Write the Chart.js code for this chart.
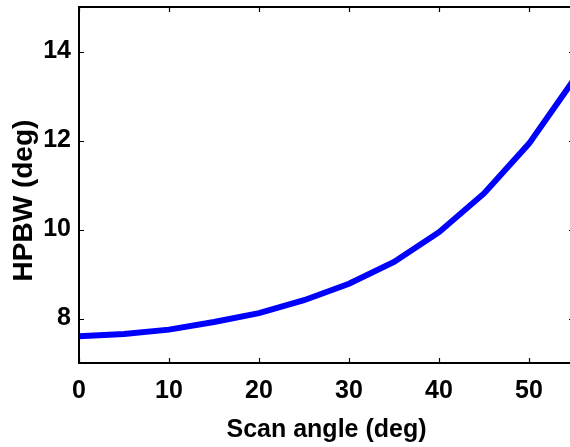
<!DOCTYPE html>
<html>
<head>
<meta charset="utf-8">
<script src="https://cdn.jsdelivr.net/npm/chart.js@4.4.1/dist/chart.umd.min.js"></script>
<style>
  html, body { margin: 0; padding: 0; background: #fff; overflow: hidden; }
  #wrap { position: relative; width: 576px; height: 447px; }
</style>
</head>
<body>
<div id="wrap"><canvas id="hpbwChart"></canvas></div>
<script>
// Half-power beamwidth vs. scan angle
const scanAngles = [0, 5, 10, 15, 20, 25, 30, 35, 40, 45, 50, 55];
const hpbwValues = [7.60, 7.65, 7.75, 7.92, 8.12, 8.41, 8.78, 9.27, 9.94, 10.81, 11.93, 13.37];
const xTicks = [0, 10, 20, 30, 40, 50];
const yTicks = [8, 10, 12, 14];

const fontFamily = "'Liberation Sans', Arial, sans-serif";
const axisFont = { family: fontFamily, size: 25, weight: 'bold' };
const yTitleFont = { family: fontFamily, size: 28, weight: 'bold' };

// box around the plot area with short inward tick marks
const framePlugin = {
  id: 'frame',
  afterDraw(chart) {
    const { ctx, chartArea: a, scales } = chart;
    ctx.save();
    ctx.strokeStyle = '#000';
    ctx.lineWidth = 2;
    ctx.strokeRect(a.left, a.top, a.right - a.left, a.bottom - a.top);
    ctx.lineWidth = 1.2;
    ctx.beginPath();
    xTicks.forEach(v => {
      const px = Math.round(scales.x.getPixelForValue(v)) + 0.5;
      ctx.moveTo(px, a.bottom); ctx.lineTo(px, a.bottom - 5);
      ctx.moveTo(px, a.top); ctx.lineTo(px, a.top + 5);
    });
    yTicks.forEach(v => {
      const py = Math.round(scales.y.getPixelForValue(v)) + 0.5;
      ctx.moveTo(a.left, py); ctx.lineTo(a.left + 5, py);
      ctx.moveTo(a.right, py); ctx.lineTo(a.right - 5, py);
    });
    ctx.stroke();
    ctx.restore();
  }
};

new Chart(document.getElementById('hpbwChart'), {
  type: 'line',
  data: {
    datasets: [{
      data: scanAngles.map((x, i) => ({ x, y: hpbwValues[i] })),
      borderColor: '#0000ff',
      borderWidth: 6,
      pointRadius: 0,
      tension: 0,
      fill: false
    }]
  },
  options: {
    responsive: true,
    maintainAspectRatio: false,
    animation: false,
    layout: { padding: { left: 0, right: 2, top: 7, bottom: 0 } },
    plugins: { legend: { display: false }, tooltip: { enabled: false } },
    scales: {
      x: {
        type: 'linear',
        min: 0,
        max: 55,
        afterBuildTicks: s => { s.ticks = xTicks.map(v => ({ value: v })); },
        afterFit: s => { s.height = 84; s.paddingLeft = 0; s.paddingRight = 0; },
        grid: { display: false, drawTicks: false },
        border: { display: false },
        ticks: { color: '#000', font: axisFont, padding: 13, maxRotation: 0 },
        title: { display: true, text: 'Scan angle (deg)', color: '#000', font: axisFont, padding: { top: 4, bottom: 2 } }
      },
      y: {
        min: 7,
        max: 15,
        afterBuildTicks: s => { s.ticks = yTicks.map(v => ({ value: v })); },
        afterFit: s => { s.width = 79; s.paddingTop = 0; s.paddingBottom = 0; },
        grid: { display: false, drawTicks: false },
        border: { display: false },
        ticks: { color: '#000', font: axisFont, padding: 8 },
        title: { display: true, text: 'HPBW (deg)    ', color: '#000', font: yTitleFont, padding: { top: 7, bottom: 0 } }
      }
    }
  },
  plugins: [framePlugin]
});
</script>
</body>
</html>
